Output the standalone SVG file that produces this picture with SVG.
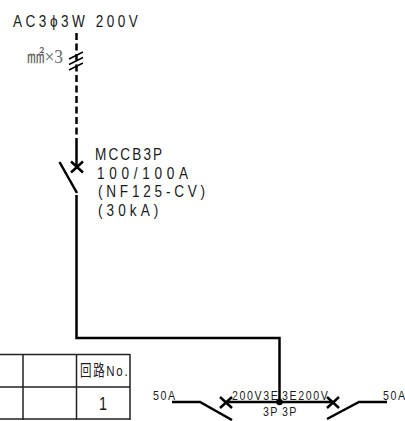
<svg xmlns="http://www.w3.org/2000/svg" width="405" height="421" viewBox="0 0 405 421">
<style>
text{font-family:"Liberation Sans",Arial,sans-serif;fill:#1a1a1a}
.big{font-size:16px}
.sm{font-size:12.500px}
.w{fill:none;stroke:#000;stroke-width:2.500}
.t{fill:none;stroke:#222;stroke-width:1.500}
</style>
<g id="connectors">
<path class="w" d="M76.500 33V136" stroke-dasharray="7 3.500"/>
<path class="w" d="M76.500 138V167M76.500 195V338H279.500V402"/>
<path class="w" d="M59.500 162L77 193"/>
<path d="M69 59L83 52M69 64.500L83 57.500M69 70L83 63" fill="none" stroke="#000" stroke-width="1.500"/>
<circle cx="279.500" cy="402" r="3.200" fill="#000"/>
</g>
<g id="source"><text class="big" transform="translate(13 26.500) scale(.85 1.050)" textLength="147" lengthAdjust="spacing">AC3ϕ3W 200V</text></g>
<g id="cable"><text transform="translate(27 63) scale(.95 1.300)" style="fill:#666;font-family:'Liberation Serif','Noto Sans CJK JP',serif" font-size="14" textLength="38" lengthAdjust="spacingAndGlyphs">㎟×3</text></g>
<g id="mccb">
<path class="w" d="M71 161.500L83 172.500M83 161.500L71 172.500"/>
<text class="big" transform="translate(95 160) scale(.85 1.050)" textLength="79" lengthAdjust="spacing">MCCB3P</text>
<text class="big" transform="translate(97 179) scale(.85 1.050)" textLength="107" lengthAdjust="spacing">100/100A</text>
<text class="big" transform="translate(98 197) scale(.85 1.050)" textLength="126" lengthAdjust="spacing">(NF125-CV)</text>
<text class="big" transform="translate(98 216) scale(.85 1.050)" textLength="71" lengthAdjust="spacing">(30kA)</text>
</g>
<g id="table">
<path class="t" d="M0 354.500H130M0 387H130M0 419H130M23 354V420M76.500 354V420M130 354V420"/>
<text transform="translate(80 376) scale(.85 1.150)" font-size="13.500" style="font-family:'Liberation Sans','Noto Sans CJK JP',sans-serif" textLength="56" lengthAdjust="spacing">回路No.</text>
<text transform="translate(103 410) scale(.85 1.050)" font-size="17" text-anchor="middle">1</text>
</g>
<g id="breakerLeft">
<path class="w" d="M172 402H200L232 420"/>
<path class="w" d="M220 397L232 408M232 397L220 408"/>
<path class="w" d="M226 402H279"/>
<text class="sm" transform="translate(153 400) scale(.85 1.050)" textLength="26" lengthAdjust="spacing">50A</text>
<text class="sm" transform="translate(232 400) scale(.85 1.050)" textLength="54" lengthAdjust="spacing">200V3E</text>
<text class="sm" transform="translate(263 416) scale(.85 1.050)" textLength="17" lengthAdjust="spacing">3P</text>
</g>
<g id="breakerRight">
<path class="w" d="M279 402H333"/>
<path class="w" d="M327 397L339 408M339 397L327 408"/>
<path class="w" d="M327 419L359 402H387"/>
<text class="sm" transform="translate(282 400) scale(.85 1.050)" textLength="54" lengthAdjust="spacing">3E200V</text>
<text class="sm" transform="translate(282 416) scale(.85 1.050)" textLength="17" lengthAdjust="spacing">3P</text>
<text class="sm" transform="translate(383 400) scale(.85 1.050)" textLength="26" lengthAdjust="spacing">50A</text>
</g>
</svg>
